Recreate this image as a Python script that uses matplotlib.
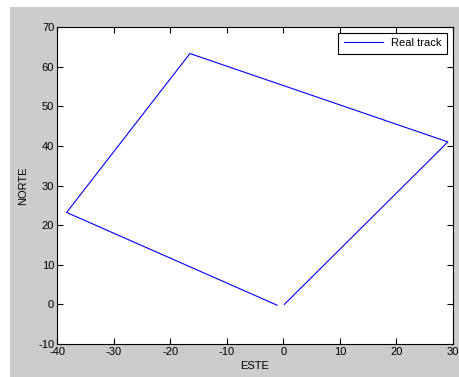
import numpy as np
import matplotlib.pyplot as plt
from matplotlib.patches import Rectangle

# track corners (ESTE, NORTE)
este = [0.2, 29.1, -16.5, -38.3, -1.1]
norte = [0.0, 41.0, 63.3, 23.2, -0.2]

xticks = [-40, -30, -20, -10, 0, 10, 20, 30]
yticks = [-10, 0, 10, 20, 30, 40, 50, 60, 70]

plt.rcParams['font.family'] = ['Liberation Sans', 'DejaVu Sans']
plt.rcParams['font.size'] = 8
plt.rcParams['axes.unicode_minus'] = False

fig = plt.figure(figsize=(4.59, 3.77), dpi=100)
fig.patch.set_facecolor('#cccccc')
# white strips at top and left (screenshot edge)
fig.patches.append(Rectangle((0, 0), 10/459, 1, transform=fig.transFigure,
                             facecolor='white', edgecolor='none', zorder=-10))
fig.patches.append(Rectangle((0, 1 - 7/377), 1, 7/377, transform=fig.transFigure,
                             facecolor='white', edgecolor='none', zorder=-10))

ax = fig.add_axes([57/459, 33/377, 396/459, 317/377])
ax.plot(este, norte, color='#0000ff', lw=0.8, label='Real track')
ax.set_xlim(-40, 30)
ax.set_ylim(-10, 70)
ax.set_xticks(xticks)
ax.set_yticks(yticks)
ax.tick_params(direction='in', top=True, right=True, length=4, width=0.8, pad=2)
for s in ax.spines.values():
    s.set_linewidth(0.8)
ax.set_xlabel('ESTE', labelpad=3)
ax.set_ylabel('NORTE', labelpad=7)
leg = ax.legend(loc='upper right', fancybox=False, framealpha=1, edgecolor='black',
                borderaxespad=0.5, handlelength=3.5, borderpad=0.5)
leg.get_frame().set_linewidth(0.8)

plt.savefig('out.png', dpi=100, facecolor=fig.get_facecolor())
